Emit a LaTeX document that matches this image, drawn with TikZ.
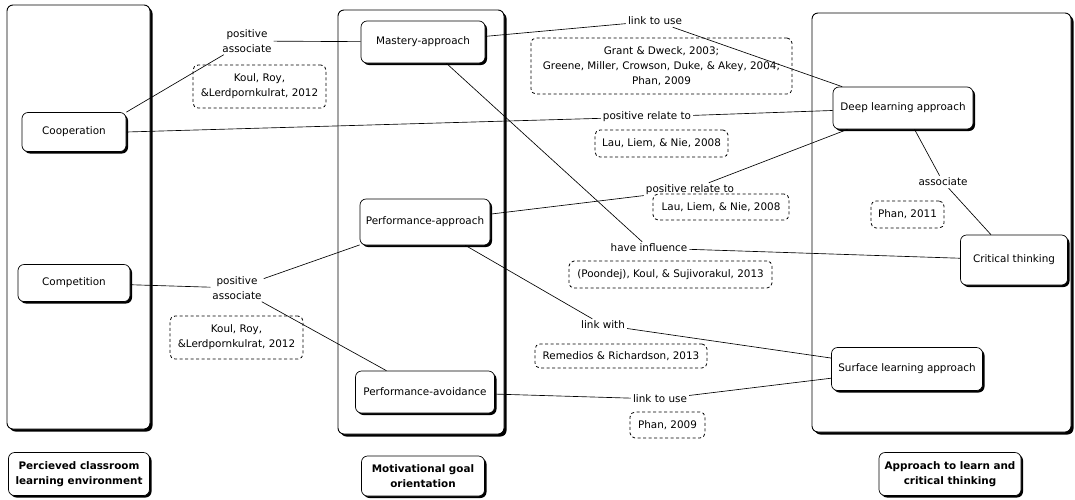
\documentclass[tikz,border=0pt]{standalone}
\usepackage{fontspec}
\setmainfont{DejaVu Sans}
\usetikzlibrary{shadows}
\begin{document}
\begin{tikzpicture}[x=1pt,y=-1pt,
  panel/.style={draw, line width=0.9pt, rounded corners=6pt, fill=white,
    drop shadow={shadow xshift=2.5pt, shadow yshift=-2.5pt, fill=black, opacity=1}},
  box/.style={draw, line width=0.7pt, rounded corners=6pt, fill=white, align=center,
    font=\fontsize{10.4}{14.5}\selectfont, inner sep=2pt,
    drop shadow={shadow xshift=2pt, shadow yshift=-2pt, fill=black, opacity=1}},
  title/.style={box, font=\bfseries\fontsize{10.4}{14.5}\selectfont},
  refbox/.style={draw, dashed, dash pattern=on 3pt off 2.5pt, line width=0.8pt, rounded corners=5pt,
    align=center, font=\fontsize{10.4}{15}\selectfont, inner sep=2pt},
  lab/.style={align=center, font=\fontsize{10.4}{15}\selectfont, inner sep=2pt},
  conn/.style={line width=0.65pt}
]
\useasboundingbox (0,0) rectangle (1075,499);
% panels
\node[panel, minimum width=143pt, minimum height=424pt] (pleft) at (78.5,217) {};
\node[panel, minimum width=166pt, minimum height=424pt] (pmid) at (421,222) {};
\node[panel, minimum width=259pt, minimum height=419pt] (pright) at (941.5,222.5) {};
% main boxes
\node[box, minimum width=104pt, minimum height=39pt] (coop) at (74,132) {Cooperation};
\node[box, minimum width=112pt, minimum height=37pt] (comp) at (74,283) {Competition};
\node[title, minimum width=141pt, minimum height=43pt] (perc) at (79,474) {Percieved classroom\\learning environment};
\node[box, minimum width=124pt, minimum height=42pt] (mast) at (423,42) {Mastery-approach};
\node[box, minimum width=130pt, minimum height=46pt] (perfa) at (425,222) {Performance-approach};
\node[box, minimum width=139pt, minimum height=42pt] (perfav) at (425,392) {Performance-avoidance};
\node[title, minimum width=123pt, minimum height=40pt] (motiv) at (423,476) {Motivational goal\\orientation};
\node[box, minimum width=140pt, minimum height=42pt] (deep) at (903,108) {Deep learning approach};
\node[box, minimum width=107pt, minimum height=50pt] (crit) at (1014,260) {Critical thinking};
\node[box, minimum width=151pt, minimum height=43pt] (surf) at (907,369) {Surface learning approach};
\node[title, minimum width=142pt, minimum height=43pt] (appr) at (950,474) {Approach to learn and\\critical thinking};
% reference boxes
\node[refbox, minimum width=133pt, minimum height=43pt] (koula) at (259.5,86.5) {Koul, Roy,\\\&Lerdpornkulrat, 2012};
\node[refbox, minimum width=133pt, minimum height=43pt] (koulb) at (236.5,337.5) {Koul, Roy,\\\&Lerdpornkulrat, 2012};
\node[refbox, minimum width=261pt, minimum height=56pt] (grant) at (661.5,66) {Grant \& Dweck, 2003;\\Greene, Miller, Crowson, Duke, \& Akey, 2004;\\Phan, 2009};
\node[refbox, minimum width=133pt, minimum height=27pt] (laua) at (661.5,143.5) {Lau, Liem, \& Nie, 2008};
\node[refbox, minimum width=136pt, minimum height=26pt] (laub) at (721,207) {Lau, Liem, \& Nie, 2008};
\node[refbox, minimum width=73pt, minimum height=27pt] (phana) at (907.5,214.5) {Phan, 2011};
\node[refbox, minimum width=203pt, minimum height=27pt] (poon) at (670.5,274.5) {(Poondej), Koul, \& Sujivorakul, 2013};
\node[refbox, minimum width=172pt, minimum height=24pt] (rem) at (621,356) {Remedios \& Richardson, 2013};
\node[refbox, minimum width=75pt, minimum height=26pt] (phanb) at (667.5,425) {Phan, 2009};
% connector labels
\node[lab] (pasa) at (247,41) {positive\\associate};
\node[lab] (pasb) at (237,288) {positive\\associate};
\node[lab] (lua) at (655,21) {link to use};
\node[lab] (pra) at (647,117) {positive relate to};
\node[lab] (prb) at (690,190) {positive relate to};
\node[lab] (asc) at (943,182) {associate};
\node[lab] (hinf) at (649,248) {have influence};
\node[lab] (lwith) at (603,325) {link with};
\node[lab] (lub) at (660,399) {link to use};
% connectors
\draw[conn] (coop.north east) -- (pasa);
\draw[conn] (pasa) -- (mast);
\draw[conn] (coop.east) -- (pra);
\draw[conn] (pra) -- (deep);
\draw[conn] (mast) -- (lua);
\draw[conn] (lua) -- (deep);
\draw[conn] (perfa) -- (prb);
\draw[conn] (prb) -- (deep);
\draw[conn] (mast) -- (hinf);
\draw[conn] (hinf) -- (crit);
\draw[conn] (deep) -- (asc);
\draw[conn] (asc) -- (crit);
\draw[conn] (perfa) -- (lwith);
\draw[conn] (lwith) -- (surf);
\draw[conn] (perfav) -- (lub);
\draw[conn] (lub) -- (surf);
\draw[conn] (comp) -- (pasb);
\draw[conn] (pasb) -- (perfa);
\draw[conn] (pasb) -- (perfav);
\end{tikzpicture}
\end{document}
